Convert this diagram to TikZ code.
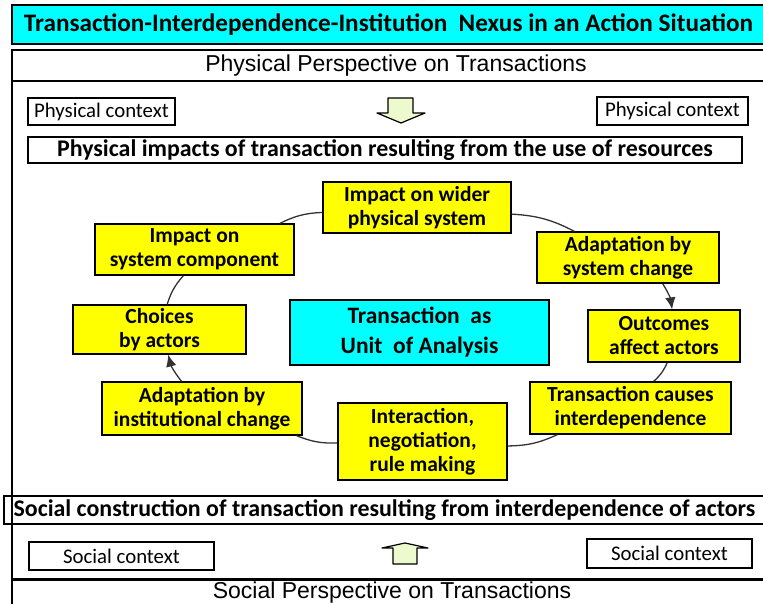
\documentclass[tikz,border=0pt]{standalone}
\usepackage{fontspec}
\setmainfont{Carlito}
\newfontfamily\arialfont{Liberation Sans}
\usetikzlibrary{arrows.meta}
\definecolor{boxyellow}{RGB}{255,255,0}
\definecolor{boxcyan}{RGB}{0,255,255}
\definecolor{arrowgreen}{RGB}{236,250,206}
\definecolor{linkgray}{RGB}{50,50,50}
\tikzset{
  frame/.style={draw, line width=1.2pt},
  titlebox/.style={draw, fill=boxcyan, line width=1.2pt, inner sep=0pt, font=\bfseries\fontsize{25.2}{28}\selectfont},
  headband/.style={draw, line width=1.2pt, inner sep=0pt, font=\arialfont\fontsize{23}{26}\selectfont},
  contextbox/.style={draw, line width=1.2pt, inner sep=0pt, font=\fontsize{20.8}{24}\selectfont},
  impactbar/.style={draw, line width=1.2pt, inner sep=0pt, font=\bfseries\fontsize{23.9}{26}\selectfont},
  cycle box/.style={draw, fill=boxyellow, line width=1.2pt, inner sep=0pt, align=center, font=\bfseries\fontsize{21.5}{24}\selectfont},
  unit box/.style={cycle box, fill=boxcyan, font=\bfseries\fontsize{23.5}{30}\selectfont},
  block arrow/.style={draw, fill=arrowgreen, line width=1.2pt, line join=round},
  cycle link/.style={draw=linkgray, line width=1.3pt, bend left=12},
  cycle tip/.style={-{Latex[length=12pt,width=10.5pt]}},
}
\begin{document}
\begin{tikzpicture}[x=1pt,y=-1pt]
\clip (0,0) rectangle (763,604);
\useasboundingbox (0,0) rectangle (763,604);
%the frames
\node [titlebox, minimum width=753pt, minimum height=39pt] (title) at (388.5,24.5) {Transaction-Interdependence-Institution\ \ Nexus in an Action Situation};
\draw [frame] (12,50) rectangle (780,640);
\node [headband, minimum width=768pt, minimum height=31pt] (physhead) at (396,65.5) {Physical Perspective on Transactions};
\node [contextbox, minimum width=147pt, minimum height=27pt] (physL) at (101.5,111.5) {Physical context};
\node [contextbox, minimum width=151pt, minimum height=28pt] (physR) at (672.5,111) {Physical context};
\node [impactbar, minimum width=714pt, minimum height=26pt] (physbar) at (385,150) {Physical impacts of transaction resulting from the use of resources};
%the cycle
\node [cycle box, minimum width=188pt, minimum height=51pt] (wider) at (417,207.5) {Impact on wider\\physical system};
\node [cycle box, minimum width=199pt, minimum height=51pt] (comp) at (194.5,249.5) {Impact on\\system component};
\node [cycle box, minimum width=182pt, minimum height=51pt] (sysch) at (628,257.5) {Adaptation by\\system change};
\node [cycle box, minimum width=173pt, minimum height=49pt] (choices) at (159.5,329.5) {Choices\\by actors};
\node [unit box, minimum width=259pt, minimum height=65pt] (unit) at (419.5,332.5) {Transaction\ \ as\\Unit\ \ of Analysis};
\node [cycle box, minimum width=152pt, minimum height=52pt] (outcomes) at (664,336) {Outcomes\\affect actors};
\node [cycle box, minimum width=200pt, minimum height=53pt] (instch) at (202,408.5) {Adaptation by\\institutional change};
\node [cycle box, minimum width=201pt, minimum height=52pt] (causes) at (630.5,408) {Transaction causes\\interdependence};
\node [cycle box, minimum width=169pt, minimum height=77pt] (interact) at (422.5,441.5) {Interaction,\\negotiation,\\rule making};
%the social side
\node [impactbar, minimum width=761pt, minimum height=28pt] (socbar) at (384.5,510) {Social construction of transaction resulting from interdependence of actors};
\node [contextbox, minimum width=185pt, minimum height=28pt] (socL) at (121.5,556) {Social context};
\node [contextbox, minimum width=165pt, minimum height=29pt] (socR) at (669.5,553.5) {Social context};
\draw [line width=2.2pt] (12,579.5) -- (780,579.5);
\node [font=\arialfont\fontsize{23}{26}\selectfont] (sochead) at (392,593) {Social Perspective on Transactions};
%block arrows
\draw [block arrow] (388,98) -- (413,98) -- (413,113) -- (425,113) -- (401,123) -- (377,113) -- (388,113) -- cycle;
\draw [block arrow] (393,564) -- (393,548) -- (382,548) -- (405,543) -- (428,548) -- (417,548) -- (417,564) -- cycle;
%drawings of links
\draw [cycle link] (choices.73) to (comp.247);
\draw [cycle link] (comp.17) to (wider.183);
\draw [cycle link] (wider.-4) to (sysch.154);
\draw [cycle link, cycle tip] (sysch.-37) to (outcomes.73);
\draw [cycle link] (outcomes.-83) to (causes.49);
\draw [cycle link] (causes.200) to (interact.-3);
\draw [cycle link] (interact.181) to (instch.-16);
\draw [cycle link, cycle tip] (instch.127) to (choices.-71);
\end{tikzpicture}
\end{document}
